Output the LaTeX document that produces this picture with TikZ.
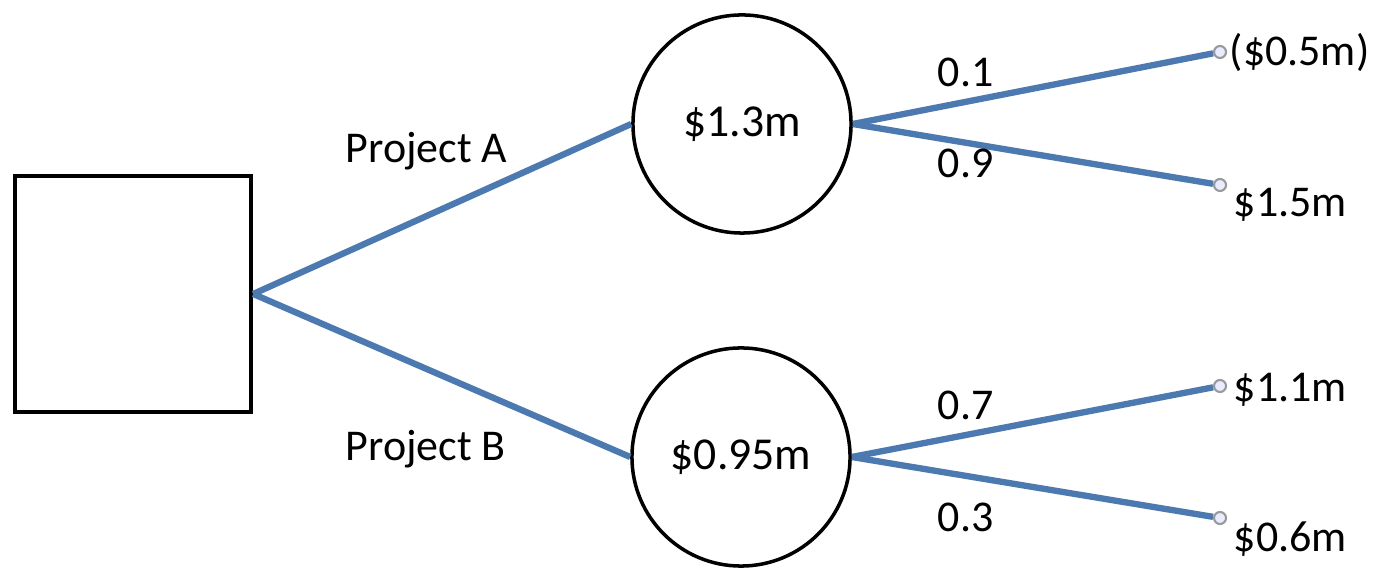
\documentclass[tikz,border=0pt]{standalone}
\usepackage{fontspec}
\setmainfont{Carlito}
\definecolor{branchblue}{RGB}{76,122,176}
\tikzset{
  decision/.style={draw=black, line width=1.2pt, minimum size=2.36cm, inner sep=0pt},
  chance/.style={circle, draw=black, line width=1pt, minimum size=2.18cm, inner sep=0pt, font=\fontsize{13}{15}\selectfont},
  leaf/.style={circle, draw=gray!80, fill=blue!8, line width=0.6pt, minimum size=0.12cm, inner sep=0pt},
  branch/.style={draw=branchblue, line width=1.8pt},
  lbl/.style={anchor=base west, inner sep=0pt}
}
\begin{document}
\begin{tikzpicture}[x=0.01cm, y=-0.01cm, font=\fontsize{12.5}{15}\selectfont]
\useasboundingbox (0,0) rectangle (1383,571);

\node[decision] (d) at (133,294) {};
\node[chance] (ca) at (742,124) {\$1.3m};
\node[chance] (cb) at (741,457) {\$0.95m};

\node[leaf] (e1) at (1220,52) {};
\node[leaf] (e2) at (1220,185) {};
\node[leaf] (e3) at (1220,386) {};
\node[leaf] (e4) at (1220,518) {};

\draw [branch] (d.east)--(ca.west);
\draw [branch] (d.east)--(cb.west);
\draw [branch] (ca.east)--(e1); \draw [branch] (ca.east)--(e2);
\draw [branch] (cb.east)--(e3); \draw [branch] (cb.east)--(e4);

\node[lbl] (pa) at (345,163) {Project A};
\node[lbl] (pb) at (345,461) {Project B};

\node[lbl] (p1) at (937,87) {0.1};
\node[lbl] (p2) at (937,178) {0.9};
\node[lbl] (p3) at (937,420) {0.7};
\node[lbl] (p4) at (937,532) {0.3};

\node[lbl] (v1) at (1229,66) {(\$0.5m)};
\node[lbl] (v2) at (1233,217) {\$1.5m};
\node[lbl] (v3) at (1233,402) {\$1.1m};
\node[lbl] (v4) at (1233,552) {\$0.6m};

\end{tikzpicture}
\end{document}
